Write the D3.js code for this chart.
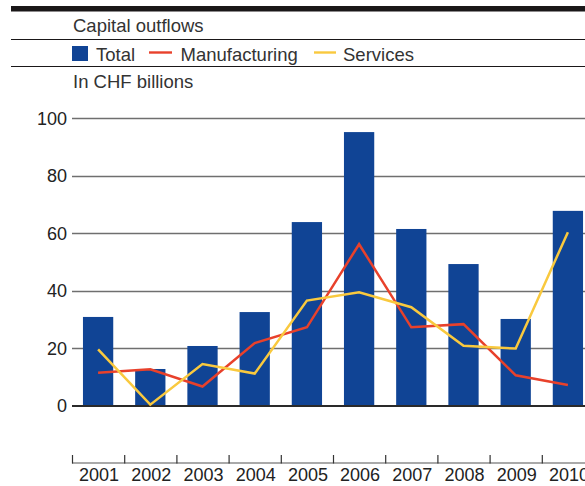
<!DOCTYPE html>
<html><head><meta charset="utf-8">
<script src="https://cdn.jsdelivr.net/npm/d3@7"></script>
<style>body{margin:0;background:#fff}svg{display:block}text{font-family:"Liberation Sans",Arial,sans-serif}</style>
</head><body>
<svg id="c" width="585" height="486"></svg>
<script>
const years = ["2001","2002","2003","2004","2005","2006","2007","2008","2009","2010"];
const total = [30.8,12.7,20.7,32.5,63.8,95.1,61.4,49.2,30.1,67.7];
const manufacturing = [11.4,12.6,6.6,21.7,27.2,56.1,27.2,28.3,10.5,7.1];
const services = [19.5,0.3,14.4,11.1,36.5,39.4,34.2,20.8,19.8,60.3];
const yTicks = [0,20,40,60,80,100];

const svg = d3.select("#c");
const colBlue = "#104495", colRed = "#e8412b", colYellow = "#f9c93e";
const txt = "#333";

// header rules
svg.append("rect").attr("x",11).attr("y",6).attr("width",574).attr("height",5.5).attr("fill","#1a1718");
svg.append("line").attr("x1",11).attr("x2",585).attr("y1",39.5).attr("y2",39.5).attr("stroke","#1a1718").attr("stroke-width",1);
svg.append("line").attr("x1",11).attr("x2",585).attr("y1",66.5).attr("y2",66.5).attr("stroke","#1a1718").attr("stroke-width",1);
svg.append("text").attr("x",73).attr("y",32).attr("font-size",18.5).attr("fill",txt).text("Capital outflows");
svg.append("text").attr("x",73).attr("y",88).attr("font-size",18.5).attr("fill",txt).text("In CHF billions");

// legend
const lg = svg.append("g");
lg.append("rect").attr("x",72).attr("y",46).attr("width",16).attr("height",15).attr("fill",colBlue);
lg.append("text").attr("x",96).attr("y",61).attr("font-size",18.5).attr("fill",txt).text("Total");
lg.append("line").attr("x1",149).attr("x2",172).attr("y1",52.5).attr("y2",52.5).attr("stroke",colRed).attr("stroke-width",2.4);
lg.append("text").attr("x",180.5).attr("y",61).attr("font-size",18.5).attr("fill",txt).text("Manufacturing");
lg.append("line").attr("x1",314).attr("x2",336).attr("y1",52.5).attr("y2",52.5).attr("stroke",colYellow).attr("stroke-width",2.4);
lg.append("text").attr("x",343).attr("y",61).attr("font-size",18.5).attr("fill",txt).text("Services");

// scales
const x = d3.scaleBand().domain(years).range([72, 594]).paddingInner(0.42).paddingOuter(0.21);
const xb = d3.scaleBand().domain(years).range([72, 594]);
const y = d3.scaleLinear().domain([0,100]).range([405.5,118]);

// gridlines
svg.append("g").selectAll("line").data(yTicks.filter(d=>d>0)).join("line")
  .attr("x1",72).attr("x2",585).attr("y1",d=>Math.round(y(d))+0.5).attr("y2",d=>Math.round(y(d))+0.5)
  .attr("stroke","#6f6f6f").attr("stroke-width",1.3);
// y labels
svg.append("g").selectAll("text").data(yTicks).join("text")
  .attr("x",67).attr("y",d=>y(d)+6.5).attr("text-anchor","end").attr("font-size",18).attr("fill","#222").text(d=>d);

// bars
svg.append("g").selectAll("rect").data(years).join("rect")
  .attr("x",d=>x(d)).attr("width",x.bandwidth())
  .attr("y",(d,i)=>y(total[i])).attr("height",(d,i)=>y(0)-y(total[i]))
  .attr("fill",colBlue);

// zero line
svg.append("line").attr("x1",72).attr("x2",585).attr("y1",406).attr("y2",406).attr("stroke","#2a2a2a").attr("stroke-width",2);

// lines
const line = d3.line().x((d,i)=>xb(years[i])+xb.bandwidth()/2).y(d=>y(d));
svg.append("path").datum(manufacturing).attr("d",line).attr("fill","none").attr("stroke",colRed).attr("stroke-width",2.5);
svg.append("path").datum(services).attr("d",line).attr("fill","none").attr("stroke",colYellow).attr("stroke-width",2.5);

// bottom axis
const axis = svg.append("g");
axis.append("line").attr("x1",72).attr("x2",585).attr("y1",463).attr("y2",463).attr("stroke","#555").attr("stroke-width",1.2);
axis.selectAll("line.t").data(years).join("line").attr("class","t")
  .attr("x1",d=>xb(d)+0.5).attr("x2",d=>xb(d)+0.5).attr("y1",455).attr("y2",463.5).attr("stroke","#333").attr("stroke-width",1.2);
axis.selectAll("text").data(years).join("text")
  .attr("x",d=>xb(d)+xb.bandwidth()/2+1).attr("y",481).attr("text-anchor","middle").attr("font-size",18).attr("fill","#222").text(d=>d);
</script>
</body></html>
